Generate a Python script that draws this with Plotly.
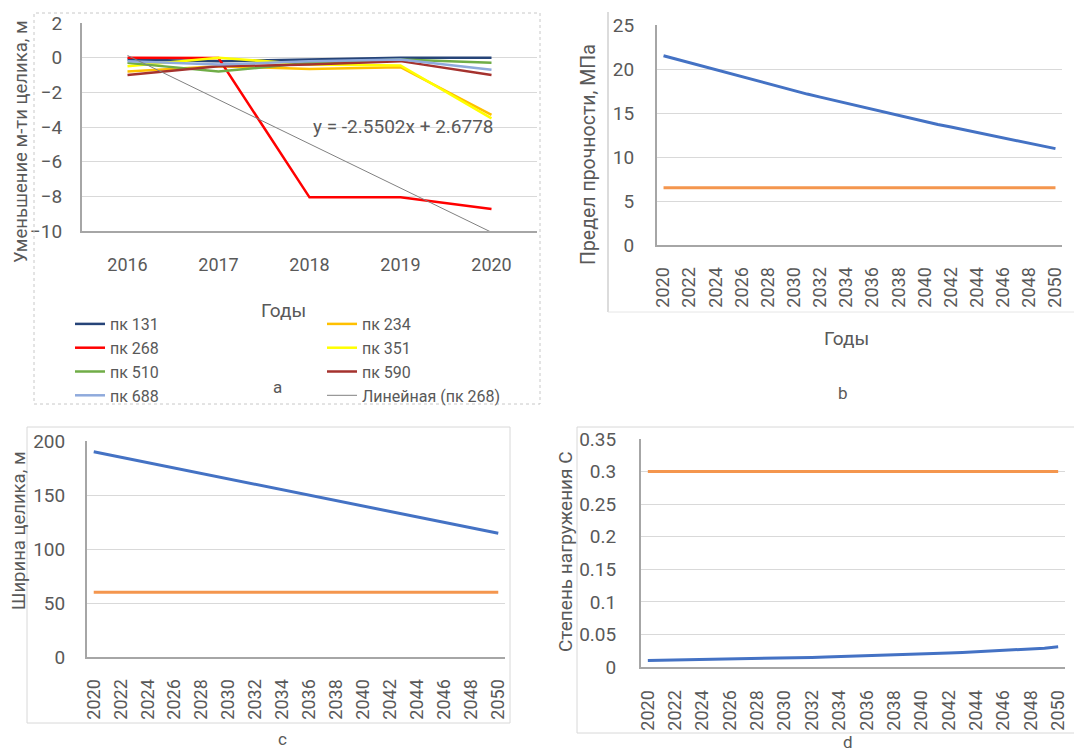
import plotly.graph_objects as go

W, H = 1082, 752
OFF = 8  # page body margin
def X(px): return (px - OFF) / W
def Y(py): return 1 - (py - OFF) / H

FONT = "Roboto"
GRAY_TXT = "#595959"
GRID = "#D9D9D9"
AXIS = "#A6A6A6"

# ---------------- Panel a data ----------------
years_a = [2016, 2017, 2018, 2019, 2020]
pk131 = [-0.1, -0.2, -0.1, 0.0, 0.0]
pk234 = [-0.8, -0.5, -0.65, -0.55, -3.3]
pk268 = [0.0, -0.02, -8.06, -8.06, -8.73]
pk351 = [-0.5, 0.0, -0.4, -0.45, -3.5]
pk510 = [-0.3, -0.8, -0.3, -0.1, -0.3]
pk590 = [-1.0, -0.5, -0.4, -0.2, -1.0]
pk688 = [-0.2, -0.4, -0.2, -0.1, -0.7]
trend268 = [0.128, -2.423, -4.973, -7.523, -10.073]
trend_label = "y = -2.5502x + 2.6778"

# ---------------- Panels b, c, d data ----------------
years_f = list(range(2020, 2051))
strength = [21.5, 21.1, 20.7, 20.3, 19.9, 19.5, 19.1, 18.7, 18.3, 17.9, 17.5,
            17.15, 16.8, 16.45, 16.1, 15.75, 15.4, 15.05, 14.7, 14.35, 14.0,
            13.7, 13.4, 13.1, 12.8, 12.5, 12.2, 11.9, 11.6, 11.3, 10.95]
strength_lim = [6.5] * 31
width = [190.0, 187.5, 185.0, 182.4, 179.9, 177.3, 174.8, 172.3, 169.8, 167.3, 164.8,
         162.3, 159.8, 157.3, 154.8, 152.3, 149.8, 147.2, 144.7, 142.2, 139.7,
         137.2, 134.7, 132.2, 129.7, 127.2, 124.7, 122.1, 119.6, 117.1, 114.6]
width_lim = [60.0] * 31
load = [0.0100, 0.0103, 0.0106, 0.0109, 0.0112, 0.0116, 0.0120, 0.0124, 0.0128, 0.0132, 0.0137,
        0.0142, 0.0147, 0.0152, 0.0158, 0.0164, 0.0170, 0.0177, 0.0184, 0.0191, 0.0199,
        0.0207, 0.0215, 0.0224, 0.0233, 0.0243, 0.0253, 0.0264, 0.0276, 0.0289, 0.0310]
load_lim = [0.3] * 31

BLUE = "#4472C4"
ORANGE = "#F4964E"

fig = go.Figure()

series_a = [
    ("пк 131", pk131, "#264478", "legend"),
    ("пк 234", pk234, "#FFC000", "legend2"),
    ("пк 268", pk268, "#FF0000", "legend"),
    ("пк 351", pk351, "#FFFF00", "legend2"),
    ("пк 510", pk510, "#70AD47", "legend"),
    ("пк 590", pk590, "#A5322E", "legend2"),
    ("пк 688", pk688, "#8FAADC", "legend"),
]
for name, vals, col, lg in series_a:
    fig.add_trace(go.Scatter(x=years_a, y=vals, name=name, mode="lines",
                             line=dict(color=col, width=2.5), legend=lg,
                             legendgroup=name, xaxis="x", yaxis="y"))
fig.add_trace(go.Scatter(x=years_a, y=trend268, name="Линейная (пк 268)", mode="lines",
                         line=dict(color="#808080", width=1), legend="legend2",
                         legendgroup="trend", xaxis="x", yaxis="y"))

for xs, ys, ax, col in [
    (years_f, strength, 2, BLUE), (years_f, strength_lim, 2, ORANGE),
    (years_f, width, 3, BLUE), (years_f, width_lim, 3, ORANGE),
    (years_f, load, 4, BLUE), (years_f, load_lim, 4, ORANGE),
]:
    fig.add_trace(go.Scatter(x=xs, y=ys, mode="lines", showlegend=False,
                             line=dict(color=col, width=3),
                             xaxis=f"x{ax}", yaxis=f"y{ax}"))

def yax(domain, rng, dtick, standoff):
    return dict(domain=domain, range=rng, dtick=dtick, showgrid=True, gridcolor=GRID,
                gridwidth=1, zeroline=False, showline=True, linecolor=AXIS, linewidth=2,
                ticks="outside", ticklen=standoff, tickcolor="rgba(0,0,0,0)",
                tickfont=dict(family=FONT, size=19, color=GRAY_TXT), fixedrange=True,
                automargin=False)

def xax(domain, rng, anchor, tickvals, angle, standoff, size=18):
    return dict(domain=domain, range=rng, anchor=anchor, tickvals=tickvals,
                tickangle=angle, showgrid=False, zeroline=False, showline=True,
                linecolor=AXIS, linewidth=2, ticks="outside", ticklen=standoff,
                tickcolor="rgba(0,0,0,0)", automargin=False,
                tickfont=dict(family=FONT, size=size, color=GRAY_TXT), fixedrange=True)

layout = dict(
    width=W, height=H, autosize=False,
    margin=dict(l=0, r=0, t=0, b=0, pad=0),
    paper_bgcolor="white", plot_bgcolor="white",
    font=dict(family=FONT, color=GRAY_TXT),
    xaxis=xax([X(82), X(537)], [2015.5, 2020.5], "y", years_a, 0, 16, size=18),
    yaxis=yax([Y(231), Y(23)], [-10, 2], 2, 14),
    xaxis2=xax([X(657), X(1062)], [2019.5, 2050.5], "y2", years_f[::2], -90, 13),
    yaxis2=dict(yax([Y(245), Y(25)], [0, 25], 5, 17), anchor="x2"),
    xaxis3=xax([X(87), X(505)], [2019.5, 2050.5], "y3", years_f[::2], -90, 13),
    yaxis3=dict(yax([Y(657), Y(441)], [0, 200], 50, 16), anchor="x3"),
    xaxis4=xax([X(641), X(1065)], [2019.5, 2050.5], "y4", years_f[::2], -90, 14),
    yaxis4=dict(yax([Y(667), Y(439)], [0, 0.35], 0.05, 19), anchor="x4"),
    legend=dict(x=X(70), y=Y(307), xanchor="left", yanchor="top", bgcolor="rgba(0,0,0,0)",
                font=dict(family=FONT, size=16, color=GRAY_TXT), tracegroupgap=0,
                itemwidth=30),
    legend2=dict(x=X(322), y=Y(307), xanchor="left", yanchor="top", bgcolor="rgba(0,0,0,0)",
                 font=dict(family=FONT, size=16, color=GRAY_TXT), tracegroupgap=0,
                 itemwidth=30),
)
fig.update_layout(**layout)

def ann(text, x, y, size=18, angle=0):
    fig.add_annotation(text=text, x=X(x), y=Y(y), xref="paper", yref="paper",
                       xanchor="center", yanchor="middle",
                       showarrow=False, textangle=angle,
                       font=dict(family=FONT, size=size, color=GRAY_TXT))

# panel a texts
ann("Уменьшение м-ти целика, м", 21, 142, size=18.5, angle=-90)
ann("Годы", 283, 310, size=19)
ann(trend_label, 403, 127, size=19)
ann("a", 277, 387, size=17)
# panel b
ann("Предел прочности, МПа", 588, 155, size=19.5, angle=-90)
ann("Годы", 846, 338, size=19)
ann("b", 843, 393, size=17)
# panel c
ann("Ширина целика, м", 19, 531, size=18.5, angle=-90)
ann("c", 282, 739, size=17)
# panel d
ann("Степень нагружения С", 565, 552, size=19, angle=-90)
ann("d", 848, 742, size=17)

# frames
fig.add_shape(type="rect", xref="paper", yref="paper", x0=X(34), x1=X(540), y0=Y(404), y1=Y(13),
              line=dict(color="#C8C8C8", width=1, dash="dot"))
fig.add_shape(type="line", xref="paper", yref="paper", x0=X(608), x1=X(608), y0=Y(312), y1=Y(12),
              line=dict(color="#D0D0D0", width=1.5))
fig.add_shape(type="line", xref="paper", yref="paper", x0=X(608), x1=X(1090), y0=Y(312), y1=Y(312),
              line=dict(color="#E6E6E6", width=1))
fig.add_shape(type="rect", xref="paper", yref="paper", x0=X(27), x1=X(510), y0=Y(723), y1=Y(427),
              line=dict(color="#D8D8D8", width=1))
fig.add_shape(type="rect", xref="paper", yref="paper", x0=X(577), x1=X(1090), y0=Y(733), y1=Y(427),
              line=dict(color="#D8D8D8", width=1))

fig.write_html("out.html")
